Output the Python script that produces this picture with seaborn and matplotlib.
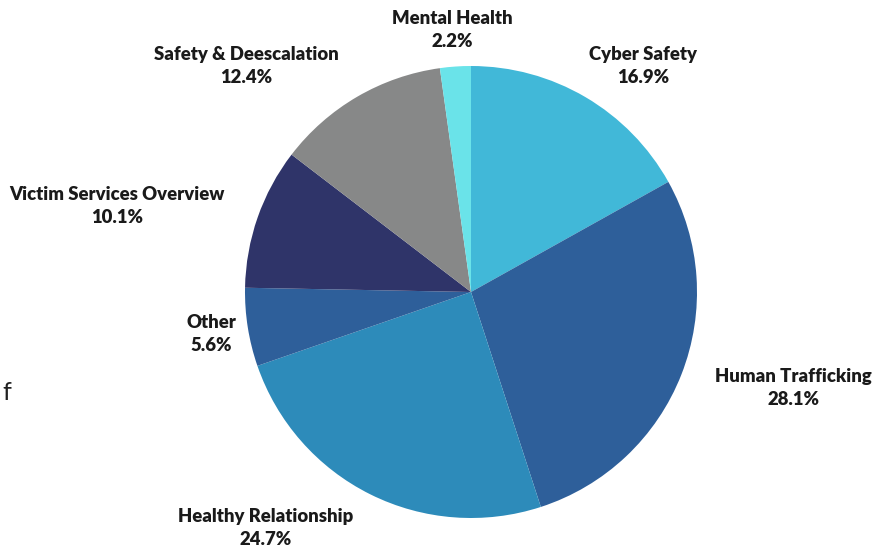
import matplotlib
matplotlib.use("Agg")
import matplotlib.pyplot as plt
import seaborn as sns

# workshop topics share (%)
topics = ["Cyber Safety", "Human Trafficking", "Healthy Relationship", "Other",
          "Victim Services Overview", "Safety & Deescalation", "Mental Health"]
shares = [16.9, 28.1, 24.7, 5.6, 10.1, 12.4, 2.2]
colors = ["#41B8D8", "#2E5F9A", "#2D8BBA", "#2E5F9A", "#2F3469", "#878888", "#6AE3E9"]

# label block centres (data units, pie radius = 1)
label_pos = [(0.761, 1.0), (1.425, -0.425), (-0.907, -1.044), (-1.150, -0.186),
             (-1.566, 0.381), (-0.996, 1.0), (-0.084, 1.159)]

sns.set_theme(style="white")
plt.rcParams["font.family"] = ["Lato", "DejaVu Sans"]

fig = plt.figure(figsize=(8.83, 5.5), dpi=100)
cx, cy, r = 471, 292, 226
ax = fig.add_axes([(cx - r) / 883, (550 - cy - r) / 550, 2 * r / 883, 2 * r / 550])

ax.pie(shares, colors=colors, startangle=90, counterclock=False,
       wedgeprops=dict(linewidth=0))
ax.set_xlim(-1, 1)
ax.set_ylim(-1, 1)
ax.set_aspect("auto")
ax.axis("off")

for name, val, (x, y) in zip(topics, shares, label_pos):
    ax.text(x, y, f"{name}\n{val:.1f}%", ha="center", va="center",
            fontsize=13.3, fontweight="heavy", color="#1a1a1a",
            linespacing=1.45, clip_on=False)

# cropped text fragment at left edge
fig.text(2 / 883, 1 - 392 / 550, "f", fontsize=18, color="#222222",
         ha="left", va="center")

fig.savefig("out.png", dpi=100)
